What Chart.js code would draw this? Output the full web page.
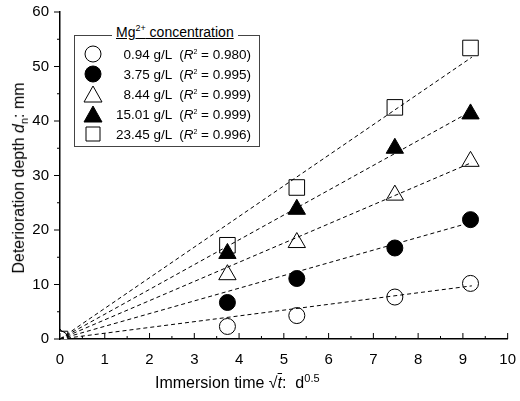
<!DOCTYPE html>
<html><head><meta charset="utf-8">
<script src="https://cdn.jsdelivr.net/npm/chart.js@4"></script>
<style>
body{margin:0;background:#fff;font-family:Arial,"Liberation Sans",sans-serif}
#w{position:relative;width:520px;height:401px}
.lg{position:absolute;left:74px;top:35px;width:184px;height:110px;border:1px solid #444;font-size:13.5px}
.lt{position:absolute;left:112px;top:23px;background:#fff;padding:0 4px;font-size:14px;text-decoration:underline}
.row{position:absolute;left:0;width:176px;text-align:right}
.yt{position:absolute;left:-90px;top:168px;width:220px;transform:rotate(-90deg);text-align:center;font-size:16px}
.xt{position:absolute;left:155px;top:372px;font-size:16px}
</style></head><body>
<div id="w"><canvas id="c" width="520" height="401"></canvas>
<div class="yt">Deterioration depth <i>d</i><sub style="font-size:11px">n</sub>: mm</div>
<div class="xt">Immersion time √<span style="text-decoration:overline"><i>t</i></span>: &nbsp;d<sup style="font-size:11px">0.5</sup></div>
<div class="lg" id="lg"></div>
<div class="lt">Mg<sup style="font-size:9px">2+</sup> concentration</div>
</div>
<script>
const xTimes=[0,3.74,5.29,7.48,9.17];
const labels=["0.94 g/L","3.75 g/L","8.44 g/L","15.01 g/L","23.45 g/L"];
const r2=["0.980","0.995","0.999","0.999","0.996"];
const s1=[0,2.3,4.3,7.7,10.2];
const s2=[0,6.7,11.1,16.7,21.9];
const s3=[0,11.8,17.7,26.4,32.6];
const s4=[0,15.7,23.8,35.0,41.3];
const s5=[0,17.2,27.8,42.5,53.4];
const slopes=[1.06,2.33,3.52,4.55,5.62];
const fitX=[0,9.2];
const series=[s1,s2,s3,s4,s5];
const styles=['circle','circle','triangle','triangle','rect'];
const radii=[8,8,10,10,11];
const fills=['#fff','#000','#fff','#000','#fff'];
const ds=[];
slopes.forEach(s=>ds.push({type:'line',data:fitX.map(x=>({x,y:s*x})),borderColor:'#000',borderWidth:1,borderDash:[4,3],pointRadius:0,fill:false}));
series.forEach((v,i)=>ds.push({type:'scatter',data:v.map((y,j)=>({x:xTimes[j],y})),pointStyle:styles[i],pointRadius:radii[i],backgroundColor:fills[i],borderColor:'#000',borderWidth:1}));
const lg=document.getElementById('lg');
labels.forEach((l,i)=>{const d=document.createElement('div');d.className='row';d.style.top=(11+i*20)+'px';d.innerHTML=l+' &nbsp;(<i>R</i><sup style="font-size:7px">2</sup> = '+r2[i]+')';lg.appendChild(d);
const c=document.createElement('canvas');c.width=20;c.height=20;c.style.position='absolute';c.style.left='8px';c.style.top=(8+i*20)+'px';lg.appendChild(c);
const g=c.getContext('2d');g.fillStyle=fills[i];g.strokeStyle='#000';g.lineWidth=1;g.beginPath();
if(styles[i]=='circle')g.arc(10,10,8,0,7);else if(styles[i]=='triangle'){g.moveTo(10,2);g.lineTo(19,18);g.lineTo(1,18);g.closePath();}else g.rect(3,3,14,14);g.fill();g.stroke();});
new Chart(document.getElementById('c'),{data:{datasets:ds},options:{responsive:false,animation:false,
layout:{padding:{top:7,right:5}},
plugins:{legend:{display:false},tooltip:{enabled:false}},
scales:{x:{type:'linear',min:0,max:10,afterFit:a=>{a.height=62},grid:{display:false,drawTicks:true},border:{color:'#000',width:1.5},
ticks:{stepSize:1,color:'#000',font:{size:15},padding:4}},
y:{min:0,max:60,afterFit:a=>{a.width=60},grid:{display:false},border:{color:'#000',width:1.5},ticks:{stepSize:10,color:'#000',font:{size:15}}}}},
plugins:[{id:'ticks',afterDraw(ch){const g=ch.ctx,x=ch.scales.x,y=ch.scales.y;g.save();g.strokeStyle='#000';g.lineWidth=1;g.beginPath();
for(let v=0;v<=10;v+=0.5){const p=x.getPixelForValue(v);g.moveTo(p,y.bottom);g.lineTo(p,y.bottom-(v%1?3:6));}
for(let v=0;v<=60;v+=5){const p=y.getPixelForValue(v);g.moveTo(x.left,p);g.lineTo(x.left-(v%10?3:6),p);}
g.stroke();g.restore();}}]});
</script></body></html>
